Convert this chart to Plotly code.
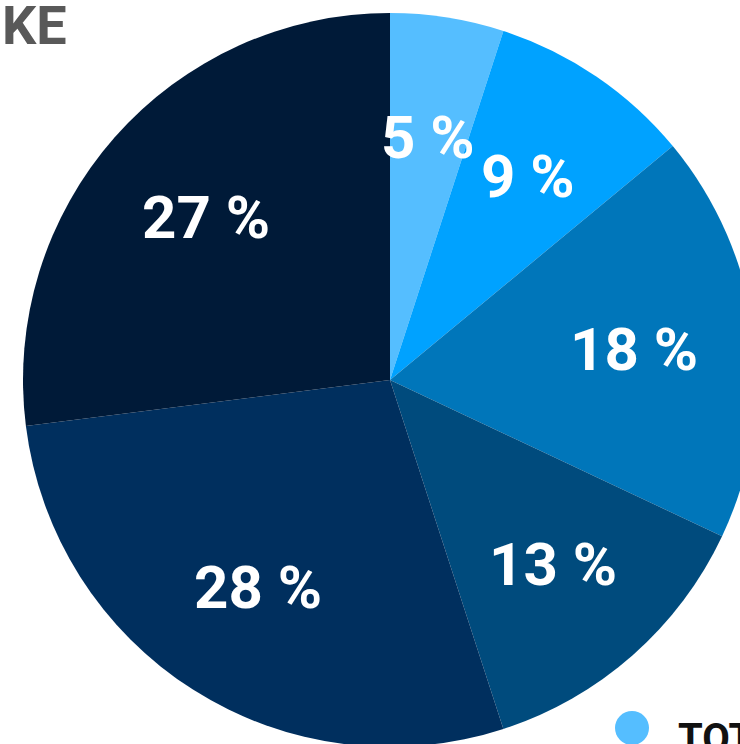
import math
import plotly.graph_objects as go

# Data
categories = ["A", "B", "C", "D", "E", "F"]
values = [5, 9, 18, 13, 28, 27]
colors = ["#55BEFF", "#00A2FF", "#0076BA", "#004B7D", "#002F5E", "#001A38"]
title_text = "KE"
legend_text = "TOTAL"

W, H = 780, 760
CX, CY, R = 390, 380, 367
FONT = "Roboto, sans-serif"

fig = go.Figure(go.Pie(
    labels=categories,
    values=values,
    sort=False,
    direction="clockwise",
    rotation=0,
    marker=dict(colors=colors, line=dict(width=0)),
    textinfo="none",
    hoverinfo="label+percent",
    showlegend=False,
    domain=dict(x=[(CX - R) / W, (CX + R) / W],
                y=[(H - CY - R) / H, (H - CY + R) / H]),
))

annotations = []
total = sum(values)
cum = 0
for v in values:
    mid = 2 * math.pi * (cum + v / 2) / total
    cum += v
    rr = 0.67 * R
    px = CX + rr * math.sin(mid)
    py = CY - rr * math.cos(mid)
    annotations.append(dict(
        x=px / W, y=1 - py / H, xref="paper", yref="paper",
        text=f"{round(100 * v / total)} %", showarrow=False,
        xanchor="center", yanchor="middle",
        font=dict(family=FONT, size=60, color="white", weight="bold"),
    ))

annotations.append(dict(
    x=0, y=1 - 26 / H, xref="paper", yref="paper",
    text=title_text, showarrow=False, xanchor="left", yanchor="middle",
    font=dict(family=FONT, size=54, color="#595959", weight="bold"),
))
annotations.append(dict(
    x=676 / W, y=1 - 738 / H, xref="paper", yref="paper",
    text=legend_text, showarrow=False, xanchor="left", yanchor="middle",
    font=dict(family=FONT, size=40, color="#111111", weight="bold"),
))

fig.add_shape(type="circle", xref="paper", yref="paper",
              x0=615 / W, x1=649 / W, y0=1 - 745 / H, y1=1 - 711 / H,
              fillcolor=colors[0], line=dict(width=0))

fig.update_layout(
    width=W, height=H,
    margin=dict(l=0, r=0, t=0, b=0),
    paper_bgcolor="white",
    annotations=annotations,
)

fig.write_html(
    "out.html",
    config={"displayModeBar": False},
    post_script="document.body.style.margin='0';document.body.style.overflow='hidden';document.documentElement.style.overflow='hidden';",
)
